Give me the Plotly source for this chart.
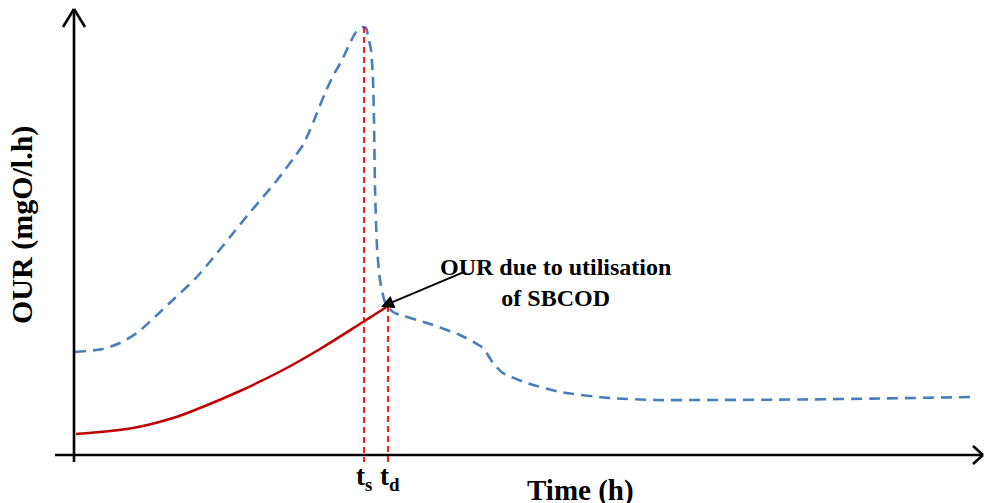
import plotly.graph_objects as go

# Total OUR (blue dashed), arbitrary units
t_total = [0.1, 2.9, 4.6, 6.3, 8.4, 10.1, 12.1, 13.9, 15.6, 17.3, 18.9, 20.4, 21.9, 22.9,
           23.6, 24.3, 25.1, 25.9, 26.8, 27.6, 28.2, 28.8, 29.2, 29.4, 29.7, 29.9, 30.0,
           30.1, 30.3, 30.6, 31.1, 31.9, 35.3, 38.6, 40.9, 41.9, 42.9, 45.3, 48.6, 53.6,
           58.3, 62.6, 72.6, 80.6, 89.8]
our_total = [10.3, 10.6, 11.2, 12.2, 14.1, 15.7, 17.6, 19.7, 21.8, 23.9, 25.8, 27.6, 29.6,
             31.0, 32.5, 34.2, 36.2, 37.9, 39.5, 41.2, 42.3, 42.8, 42.7, 41.9, 40.5, 37.5,
             33.5, 26.8, 20.8, 17.5, 15.3, 14.3, 13.2, 12.0, 10.7, 9.2, 8.2, 7.2, 6.3, 5.7,
             5.5, 5.5, 5.55, 5.65, 5.8]

# OUR due to SBCOD utilisation (red solid)
t_sbcod = [0.2, 5.9, 9.9, 12.6, 16.6, 20.9, 24.6, 28.9, 31.4]
our_sbcod = [2.1, 2.7, 3.7, 4.7, 6.4, 8.5, 10.6, 13.3, 14.9]

# Marked times
t_s = 29.0
t_d = 31.4
ts_top = 42.8
td_top = 14.9
guide_bottom = -0.7

x_max = 90.9
y_max = 44.6

fig = go.Figure()

fig.add_trace(go.Scatter(x=t_total, y=our_total, mode="lines",
                         line=dict(color="#4A7EBB", width=2.6, dash="11px,7px",
                                   shape="spline", smoothing=0.6),
                         hoverinfo="skip"))
fig.add_trace(go.Scatter(x=t_sbcod, y=our_sbcod, mode="lines",
                         line=dict(color="#C00000", width=2.5, shape="spline"),
                         hoverinfo="skip"))
fig.add_trace(go.Scatter(x=[t_s, t_s], y=[ts_top, guide_bottom], mode="lines",
                         line=dict(color="#FF0000", width=1.8, dash="6px,4px"),
                         hoverinfo="skip"))
fig.add_trace(go.Scatter(x=[t_d, t_d], y=[td_top, guide_bottom], mode="lines",
                         line=dict(color="#FF0000", width=1.8, dash="6px,4px"),
                         hoverinfo="skip"))

axis_line = dict(color="black", width=2.6)
shapes = [
    # y axis
    dict(type="line", x0=0, x1=0, y0=-0.7, y1=y_max, line=axis_line),
    dict(type="line", x0=-1.1, x1=0, y0=y_max - 1.8, y1=y_max, line=axis_line),
    dict(type="line", x0=1.1, x1=0, y0=y_max - 1.8, y1=y_max, line=axis_line),
    # x axis
    dict(type="line", x0=-1.9, x1=x_max, y0=0, y1=0, line=axis_line),
    dict(type="line", x0=x_max - 1.0, x1=x_max, y0=0.9, y1=0, line=axis_line),
    dict(type="line", x0=x_max - 1.0, x1=x_max, y0=-0.9, y1=0, line=axis_line),
]
for s in shapes:
    s["xref"] = "x"
    s["yref"] = "y"

serif = "Liberation Serif, Times New Roman, serif"
annotations = [
    dict(x=30.7, y=14.8, ax=39.0, ay=18.3, axref="x", ayref="y", xref="x", yref="y",
         text="", showarrow=True, arrowhead=2, arrowsize=1.3, arrowwidth=2,
         arrowcolor="black", standoff=0),
    dict(x=48.1, y=17.3, xref="x", yref="y",
         text="<b>OUR due to utilisation<br>of SBCOD</b>", showarrow=False,
         font=dict(family=serif, size=24, color="black"), align="center",
         xanchor="center", yanchor="middle"),
    dict(x=t_s, y=-2.3, xref="x", yref="y", text="<b>t<sub>s</sub></b>", showarrow=False,
         font=dict(family=serif, size=27, color="black"), xanchor="center", yanchor="middle"),
    dict(x=t_d + 0.2, y=-2.3, xref="x", yref="y", text="<b>t<sub>d</sub></b>", showarrow=False,
         font=dict(family=serif, size=27, color="black"), xanchor="center", yanchor="middle"),
    dict(x=50.6, y=-3.5, xref="x", yref="y", text="<b>Time (h)</b>", showarrow=False,
         font=dict(family=serif, size=29, color="black"), xanchor="center", yanchor="middle"),
    dict(x=-5.2, y=23.0, xref="x", yref="y", text="<b>OUR (mgO/l.h)</b>", showarrow=False,
         textangle=-90,
         font=dict(family=serif, size=30, color="black"), xanchor="center", yanchor="middle"),
]

fig.update_layout(
    width=984, height=503,
    margin=dict(l=0, r=0, t=0, b=0),
    paper_bgcolor="white", plot_bgcolor="white",
    showlegend=False,
    xaxis=dict(range=[-7.4, 91.0], visible=False, fixedrange=True),
    yaxis=dict(range=[-4.8, 45.5], visible=False, fixedrange=True),
    shapes=shapes,
    annotations=annotations,
)

# remove the browser's default page margin so the figure fills the window exactly
fig.write_html(
    "out.html",
    config={"displayModeBar": False},
    post_script="document.body.style.margin='0';document.body.style.overflow='hidden';",
)
